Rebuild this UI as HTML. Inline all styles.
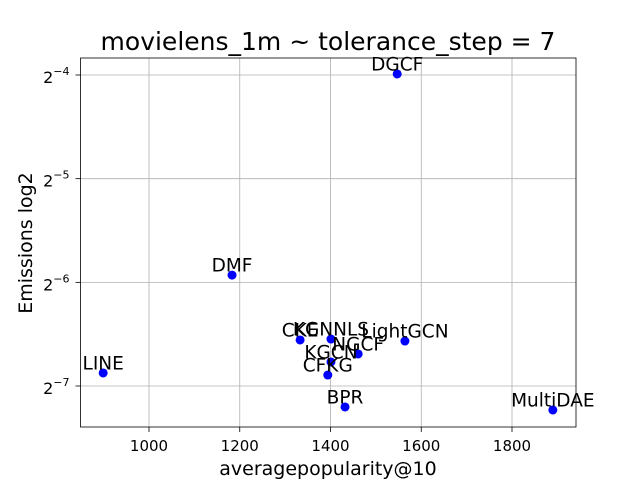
<!DOCTYPE html>
<html><head><meta charset="utf-8"><style>body{margin:0;background:#fff}svg{display:block;font-family:"DejaVu Sans","Liberation Sans",sans-serif}</style></head>
<body>
<svg id="chart" width="640" height="480">
<rect x="0" y="0" width="640" height="480" fill="#fff"/>
<g id="grid"></g><g id="axes"></g><g id="marks"></g>
<text x="328" y="50" font-size="25" text-anchor="middle">movielens_1m ~ tolerance_step = 7</text>
<text x="328" y="475" font-size="19" text-anchor="middle">averagepopularity@10</text>
<text x="32" y="243" font-size="19" text-anchor="middle" transform="rotate(-90 32 243)">Emissions log2</text>
</svg>
<script>
const models=["DGCF","DMF","CKE","KGNNLS","LightGCN","NGCF","KGCN","CFKG","BPR","LINE","MultiDAE"];
const popularity=[1547,1183,1333,1401,1564,1461,1401,1394,1432,899,1890];
const emissionsLog2=[-3.99,-5.93,-6.556,-6.547,-6.566,-6.691,-6.768,-6.894,-7.202,-6.874,-7.231];
const xTicks=[1000,1200,1400,1600,1800];
const yTicks=[-4,-5,-6,-7];
const L=80.5,R=576,T=58,B=427;
const xs=v=>149+(v-1000)*0.45375;
const ys=v=>75+(-4-v)*103.67;
const NS="http://www.w3.org/2000/svg";
function mk(p,t,a){const e=document.createElementNS(NS,t);for(const k in a)e.setAttribute(k,a[k]);p.appendChild(e);return e;}
const grid=document.getElementById('grid'),axes=document.getElementById('axes'),marks=document.getElementById('marks');
xTicks.forEach(v=>{const x=xs(v);
const g=mk(grid,'line',{x1:x,x2:x,y1:T,y2:B,stroke:'#b0b0b0','stroke-width':0.8});

const t=mk(axes,'line',{x1:x,x2:x,y1:B,y2:B+5,stroke:'#000','stroke-width':0.8});

const l=mk(axes,'text',{x:x,y:B+24,'font-size':15,'text-anchor':'middle'});l.textContent=v;
});
yTicks.forEach(v=>{const y=ys(v);
const g=mk(grid,'line',{x1:L,x2:R,y1:y,y2:y,stroke:'#b0b0b0','stroke-width':0.8});

const t=mk(axes,'line',{x1:L-5,x2:L,y1:y,y2:y,stroke:'#000','stroke-width':0.8});

const l=mk(axes,'text',{x:L-11,y:y+8,'font-size':16,'text-anchor':'end'});
l.innerHTML='2<tspan dy="-8" font-size="11">\u2212'+Math.abs(v)+'</tspan>';
});
const fr=mk(axes,'rect',{x:L,y:T,width:R-L,height:B-T,fill:'none',stroke:'#000','stroke-width':0.8});

models.forEach((m,i)=>{const x=xs(popularity[i]),y=ys(emissionsLog2[i]);
const c=mk(marks,'circle',{cx:x,cy:y,r:4.5,fill:'#0000ff'});

const t=mk(marks,'text',{x:x,y:y-3.5,'font-size':18.5,'text-anchor':'middle'});t.textContent=m;
});
</script>
</body></html>
